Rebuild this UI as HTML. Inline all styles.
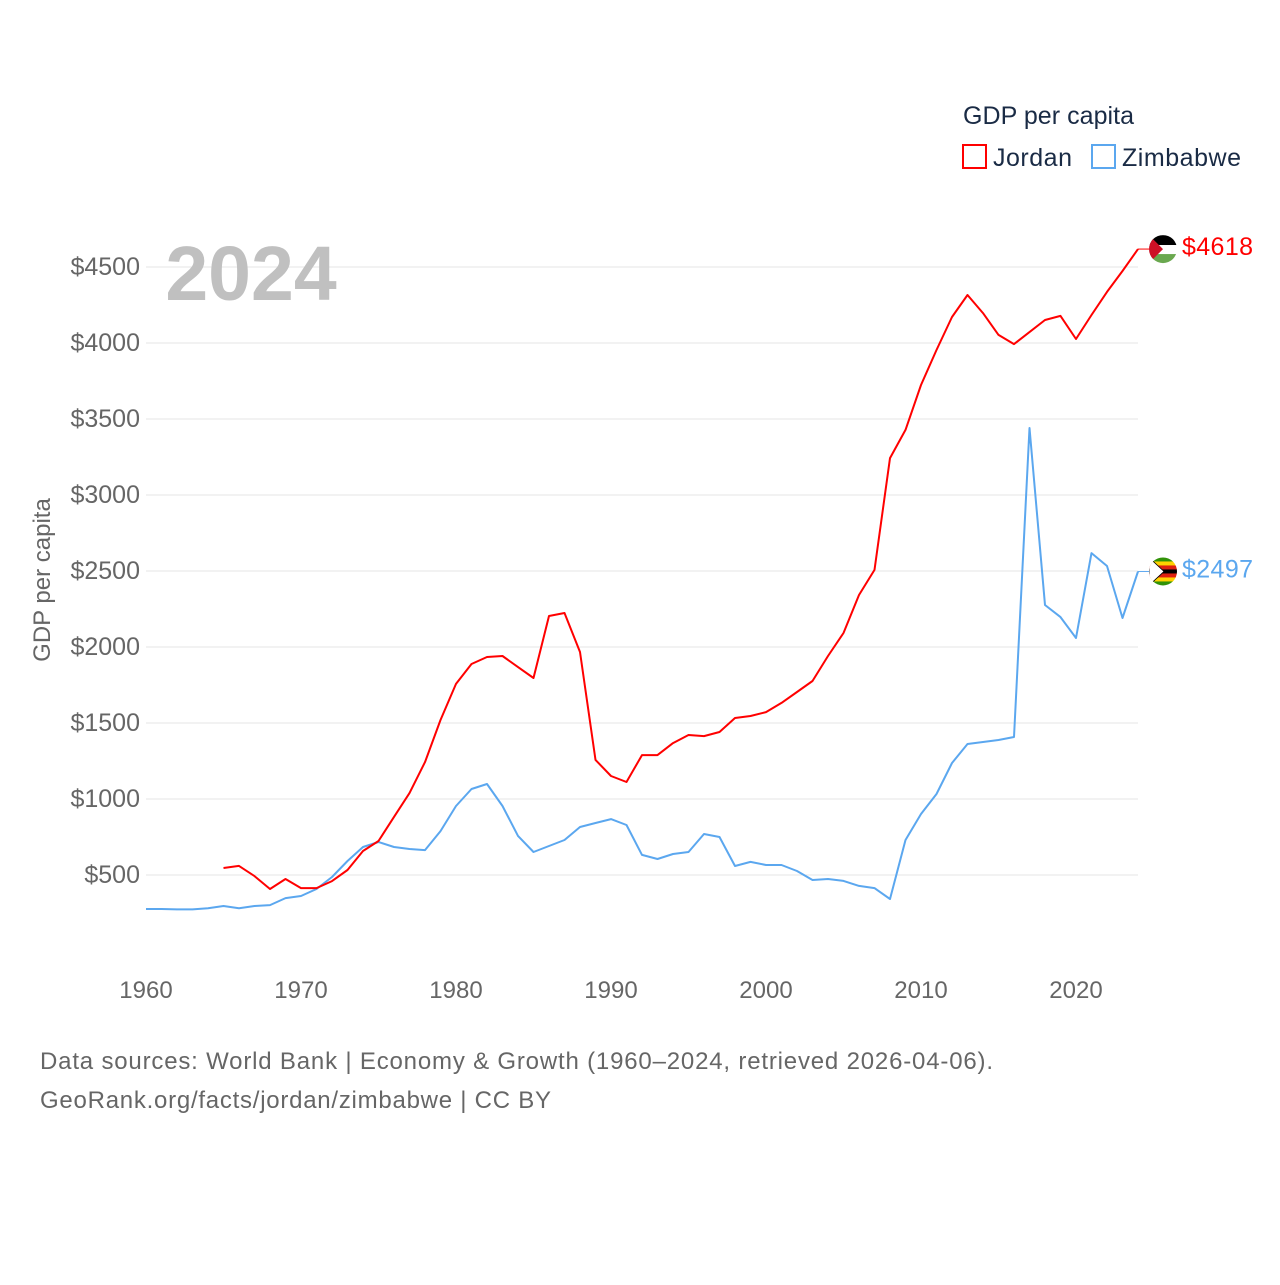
<!DOCTYPE html>
<html><head><meta charset="utf-8"><style>
html,body{margin:0;padding:0;background:#fff;}
svg text{font-family:"Liberation Sans",sans-serif;}
</style></head><body>
<svg id="chart" width="1280" height="1280" viewBox="0 0 1280 1280" xmlns="http://www.w3.org/2000/svg">
<g id="grid"></g>
<g id="yticks"></g>
<g id="xticks"></g>
<text x="251" y="300" font-size="77" font-weight="bold" fill="#c0c0c0" text-anchor="middle">2024</text>
<text transform="translate(50,580) rotate(-90)" font-size="24" fill="#666" text-anchor="middle">GDP per capita</text>
<g id="series"></g>
<g>
<text x="963" y="124" font-size="25" fill="#1a2b45" textLength="171">GDP per capita</text>
<g><rect x="963" y="145" width="23" height="23" fill="none" stroke="#ff0000" stroke-width="2"/><text x="993" y="166" font-size="25" fill="#1a2b45" textLength="79">Jordan</text></g>
<g><rect x="1092" y="145" width="23" height="23" fill="none" stroke="#5ba7ef" stroke-width="2"/><text x="1122" y="166" font-size="25" fill="#1a2b45" textLength="119">Zimbabwe</text></g>
</g>
<text x="40" y="1069" font-size="24" fill="#666" textLength="953">Data sources: World Bank | Economy &amp; Growth (1960–2024, retrieved 2026-04-06).</text>
<text x="40" y="1108" font-size="24" fill="#666" textLength="511">GeoRank.org/facts/jordan/zimbabwe | CC BY</text>
</svg>
<script>
const jordanStart = 1965;
const jordanValues = [546,560,493,408,474,414,414,460,533,658,724,882,1039,1243,1520,1757,1888,1934,1941,1868,1796,2204,2224,1967,1257,1151,1112,1289,1289,1368,1421,1414,1441,1533,1546,1572,1632,1704,1776,1941,2092,2342,2507,3243,3428,3724,3954,4171,4316,4197,4053,3993,4072,4151,4178,4026,4184,4336,4474,4618];
const zimStart = 1960;
const zimValues = [276,276,274,274,281,296,281,296,302,348,362,408,487,592,684,717,684,671,664,789,954,1066,1099,954,757,651,691,730,816,842,868,829,632,605,638,651,770,750,559,586,566,566,526,467,474,461,428,414,342,730,901,1033,1237,1362,1375,1388,1408,3441,2276,2197,2059,2618,2533,2191,2497];
const yTicks = [500,1000,1500,2000,2500,3000,3500,4000,4500];
const xTicks = [1960,1970,1980,1990,2000,2010,2020];
const NS = "http://www.w3.org/2000/svg";
function xs(yr){return 146 + (yr-1960)*15.5;}
function ys(v){return 951 - v*0.152;}
function mk(tag, attrs, parent){const e=document.createElementNS(NS,tag);for(const k in attrs)e.setAttribute(k,attrs[k]);parent.appendChild(e);return e;}
const grid=document.getElementById('grid'), yt=document.getElementById('yticks'), xt=document.getElementById('xticks'), ser=document.getElementById('series');
yTicks.forEach(v=>{
  const l=mk('line',{x1:146,x2:1138,y1:ys(v),y2:ys(v),stroke:'#e6e6e6','stroke-width':1},grid);
  
  
  const t=mk('text',{x:140,y:ys(v)+8,'font-size':25,fill:'#666','text-anchor':'end'},yt);
  t.textContent='$'+v;
  
  
});
xTicks.forEach(yr=>{
  const t=mk('text',{x:xs(yr),y:998,'font-size':24,fill:'#666','text-anchor':'middle'},xt);
  t.textContent=yr;
  
  
});
function drawSeries(start, vals, color, name, label){
  const pts=vals.map((v,i)=>xs(start+i).toFixed(1)+','+ys(v).toFixed(1)).join(' ');
  const p=mk('polyline',{points:pts,fill:'none',stroke:color,'stroke-width':2,'stroke-linejoin':'round'},ser);
  
  
  const last=vals[vals.length-1], ly=ys(last);
  const c=mk('line',{x1:1138,x2:1150,y1:ly,y2:ly,stroke:color,'stroke-width':1},ser);
  
  
  const g=mk('g',{},ser);
  
  
  const cid='clip-'+name;
  const cp=mk('clipPath',{id:cid},g); mk('circle',{cx:1163,cy:ly,r:14},cp);
  const fg=mk('g',{'clip-path':'url(#'+cid+')'},g);
  if(name==='jordan'){
    mk('rect',{x:1149,y:ly-14,width:28,height:10,fill:'#000'},fg);
    mk('rect',{x:1149,y:ly-4,width:28,height:9,fill:'#fff'},fg);
    mk('rect',{x:1149,y:ly+5,width:28,height:10,fill:'#6aa84f'},fg);
    mk('polygon',{points:`1149,${ly-14} 1163,${ly} 1149,${ly+14}`,fill:'#ce1126'},fg);
  } else {
    const cols=['#319208','#ffd200','#de2010','#000','#de2010','#ffd200','#319208'];
    cols.forEach((cc,i)=>mk('rect',{x:1149,y:ly-14+i*4,width:28,height:4.2,fill:cc},fg));
    mk('polygon',{points:`1149,${ly-14} 1164,${ly} 1149,${ly+14}`,fill:'#fff',stroke:'#000','stroke-width':0.8},fg);
  }
  const t=mk('text',{x:1182,y:ly+6,'font-size':25,fill:color,textLength:71},ser);
  t.textContent='$'+label;
  
  
}
drawSeries(zimStart, zimValues, '#5ba7ef', 'zimbabwe', zimValues[zimValues.length-1]);
drawSeries(jordanStart, jordanValues, '#ff0000', 'jordan', jordanValues[jordanValues.length-1]);
</script>
</body></html>
